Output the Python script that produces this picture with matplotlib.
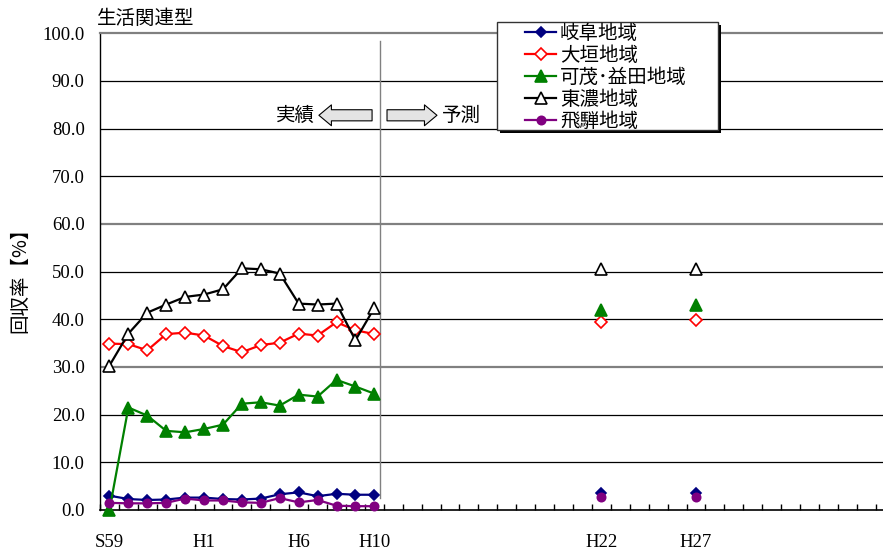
import numpy as np
import matplotlib.pyplot as plt
from matplotlib.patches import Rectangle

plt.rcParams['font.family'] = ['Noto Sans CJK JP', 'DejaVu Sans']

# category axis: one slot per year, S59 (1984) onward
first_year = 1984
n_years = 42
tick_years = [1984, 1989, 1994, 1998, 2010, 2015]
tick_text = ['S59', 'H1', 'H6', 'H10', 'H22', 'H27']

actual_years = list(range(1984, 1999))
forecast_years = [2010, 2015]

names = ['岐阜地域', '大垣地域', '可茂･益田地域', '東濃地域', '飛騨地域']

gifu = [3.0, 2.3, 2.1, 2.2, 2.6, 2.6, 2.3, 2.2, 2.4, 3.3, 3.7, 2.9, 3.4, 3.2, 3.2]
ogaki = [34.9, 34.8, 33.5, 36.9, 37.2, 36.6, 34.4, 33.1, 34.6, 35.1, 37.0, 36.6, 39.4, 37.7, 36.9]
kamo = [0.0, 21.5, 19.8, 16.6, 16.3, 17.0, 17.9, 22.3, 22.6, 21.9, 24.2, 23.8, 27.3, 25.9, 24.4]
tono = [30.3, 37.0, 41.4, 43.1, 44.7, 45.2, 46.3, 50.7, 50.5, 49.6, 43.3, 43.1, 43.3, 35.6, 42.4]
hida = [1.5, 1.4, 1.4, 1.5, 2.4, 2.0, 2.0, 1.6, 1.5, 2.5, 1.6, 2.1, 0.9, 0.8, 0.8]

gifu_fc = [3.6, 3.6]
ogaki_fc = [39.4, 39.8]
kamo_fc = [41.9, 43.1]
tono_fc = [50.6, 50.6]
hida_fc = [2.7, 2.7]

W, H = 883., 552.
step = 18.92  # px per year slot
fig = plt.figure(figsize=(W / 100, H / 100), dpi=100)
ax = fig.add_axes([100 / W, 42 / H, n_years * step / W, 476.7 / H])

x_act = np.array(actual_years) - first_year
x_fc = np.array(forecast_years) - first_year

series = [
    (names[0], gifu, gifu_fc, '#000080', 'D', '#000080', 5),
    (names[1], ogaki, ogaki_fc, '#ff0000', 'D', 'white', 6),
    (names[2], kamo, kamo_fc, '#008000', '^', '#008000', 8),
    (names[3], tono, tono_fc, '#000000', '^', 'white', 8),
    (names[4], hida, hida_fc, '#800080', 'o', '#800080', 6),
]

for name, vals, fc, col, mk, face, ms in series:
    ax.plot(x_act, vals, color=col, lw=1.6, marker=mk, mfc=face, mec=col,
            ms=ms, mew=1.2, label=name, clip_on=False, zorder=3)
    ax.plot(x_fc, fc, ls='none', color=col, marker=mk, mfc=face, mec=col,
            ms=ms, mew=1.2, clip_on=False, zorder=3)

ax.set_xlim(-0.5, n_years - 0.5)
ax.set_ylim(0, 100)

# gridlines (some render grey/thicker in the original)
for lvl in range(10, 100, 10):
    if lvl in (30, 60):
        ax.axhline(lvl, color='#808080', lw=1.6, zorder=1)
    else:
        ax.axhline(lvl, color='black', lw=0.9, zorder=1)

ax.set_yticks(np.arange(0, 101, 10))
ax.set_yticklabels(['%.1f' % v for v in np.arange(0, 101, 10)])
ax.set_xticks(np.array(tick_years) - first_year)
ax.set_xticklabels(tick_text)
ax.set_xticks(np.arange(-0.5, n_years, 1), minor=True)
ax.tick_params(axis='x', which='major', length=0, pad=17)
ax.tick_params(axis='x', which='minor', direction='in', length=4.5, width=1)
ax.tick_params(axis='y', length=0, pad=11)
for lab in ax.get_xticklabels() + ax.get_yticklabels():
    lab.set_family(['Liberation Serif'])
    lab.set_fontsize(13.5)

for s in ['right']:
    ax.spines[s].set_visible(False)
ax.spines['top'].set_color('#808080')
ax.spines['top'].set_linewidth(1.6)
ax.spines['left'].set_linewidth(1.0)
ax.spines['bottom'].set_linewidth(1.2)

# actual / forecast divider
ax.axvline(14.3, ymin=0.025, ymax=0.983, color='#808080', lw=1.0, zorder=2)

arrow_kw = dict(arrowstyle='simple,head_length=0.45,head_width=0.75,tail_width=0.4',
                fc='#e4e4e4', ec='black', lw=0.8, shrinkA=0, shrinkB=0,
                mutation_scale=20)
ax.annotate('', xy=(11.07, 82.8), xytext=(13.88, 82.8), arrowprops=arrow_kw)
ax.annotate('', xy=(17.31, 82.8), xytext=(14.67, 82.8), arrowprops=arrow_kw)
ax.text(10.86, 82.8, '実績', ha='right', va='center', fontsize=14)
ax.text(17.58, 82.8, '予測', ha='left', va='center', fontsize=14)

fig.text(97 / W, 1 - 18 / H, '生活関連型', ha='left', va='center', fontsize=14)
fig.text(20 / W, 1 - 275 / H, '回収率【%】', rotation=90, ha='center',
         va='center', fontsize=14)

# legend with drop shadow
fig.patches.append(Rectangle((500 / W, 1 - 133 / H), 221 / W, 108 / H,
                             transform=fig.transFigure, fc='black', ec='none', zorder=4))
fig.patches.append(Rectangle((497 / W, 1 - 130 / H), 221 / W, 108 / H,
                             transform=fig.transFigure, fc='white', ec='#333333',
                             lw=1.0, zorder=4))
h, l = ax.get_legend_handles_labels()
leg = fig.legend(h, l, loc='upper left', bbox_to_anchor=(525 / W, 1 - 23 / H),
                 frameon=False, fontsize=14, handlelength=1.6, handletextpad=0.2,
                 labelspacing=0.05, borderpad=0, borderaxespad=0)
leg.set_zorder(5)

fig.savefig('out.png', dpi=100)
